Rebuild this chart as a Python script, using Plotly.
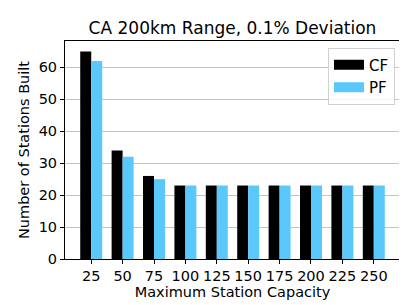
import plotly.graph_objects as go

# Maximum station capacity categories
capacities = ["25", "50", "75", "100", "125", "150", "175", "200", "225", "250"]
cf_counts = [65, 34, 26, 23, 23, 23, 23, 23, 23, 23]
pf_counts = [62, 32, 25, 23, 23, 23, 23, 23, 23, 23]

FONT = "DejaVu Sans"
CF_COLOR = "black"
PF_COLOR = "#5AC8FA"

fig = go.Figure()
fig.add_trace(go.Bar(name="CF", x=capacities, y=cf_counts, marker_color=CF_COLOR,
                     marker_line_width=0, showlegend=False))
fig.add_trace(go.Bar(name="PF", x=capacities, y=pf_counts, marker_color=PF_COLOR,
                     marker_line_width=0, showlegend=False))

# legend entries drawn as wide patches, like matplotlib's
for name, color in [("CF", CF_COLOR), ("PF", PF_COLOR)]:
    fig.add_trace(go.Scatter(name=name, x=[None], y=[None], mode="lines",
                             line=dict(color=color, width=10)))

fig.update_layout(
    width=407, height=305,
    margin=dict(l=57, r=15, t=33, b=54, autoexpand=False),
    paper_bgcolor="white", plot_bgcolor="white",
    barmode="group", bargap=0.3, bargroupgap=0,
    font=dict(family=FONT, size=14.5, color="black"),
    title=dict(text="CA 200km Range, 0.1% Deviation", xref="paper", x=0.5, xanchor="center",
               yref="container", y=0.935, yanchor="middle", font=dict(size=17)),
    legend=dict(x=0.985, y=0.97, xanchor="right", yanchor="top",
                bordercolor="#d0d0d0", borderwidth=1, bgcolor="rgba(255,255,255,0.8)",
                font=dict(size=15), tracegroupgap=0),
    xaxis=dict(type="category", range=[-0.835, 9.835], automargin=False,
               title=dict(text="Maximum Station Capacity", standoff=1, font=dict(size=14.5)),
               tickfont=dict(size=14.5),
               showline=True, linecolor="black", linewidth=1, mirror=True,
               ticks="outside", ticklen=4, tickcolor="black", showgrid=False),
    yaxis=dict(range=[0, 68.25], dtick=10, automargin=False,
               title=dict(text="Number of Stations Built", standoff=5, font=dict(size=14.5)),
               tickfont=dict(size=14.5),
               showline=True, linecolor="black", linewidth=1, mirror=True,
               ticks="outside", ticklen=4, tickcolor="black",
               showgrid=True, gridcolor="#c4c4c4", gridwidth=1, zeroline=False),
)

fig.write_html("out.html")
